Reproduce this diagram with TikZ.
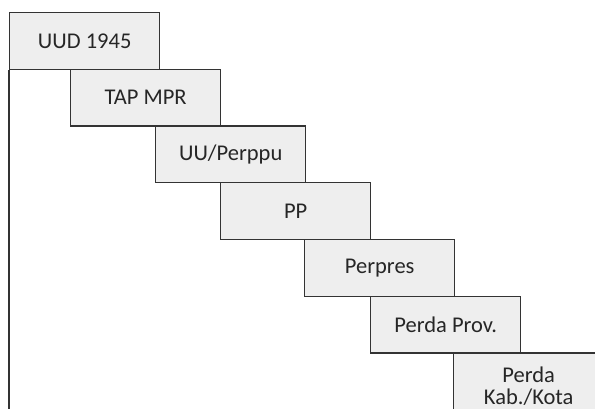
\documentclass[tikz,border=0pt]{standalone}
\usepackage{fontspec}
\setmainfont{Carlito}
\usepackage{tikz}

\definecolor{boxfill}{HTML}{EEEEEE}
\definecolor{boxline}{HTML}{333333}

\tikzset{
	stepbox/.style={draw=boxline,line width=1.4pt,fill=boxfill,anchor=north west,
		minimum width=150pt,minimum height=56.7pt,inner sep=0pt,align=center,
		font=\fontsize{22.5}{22}\selectfont,text=black!85}
}

\begin{document}
\begin{tikzpicture}[x=1pt,y=1pt]
	\useasboundingbox (0,0) rectangle (595,-409);
	\clip (0,0) rectangle (595,-409);

	%hierarchy boxes
	\foreach \i/\x/\txt in {1/9/UUD 1945,2/70/TAP MPR,3/155/UU\slash Perppu,4/220/PP,5/304/Perpres,6/370/Perda Prov.}
	\node[stepbox] (b\i) at (\x,{-12-56.7*(\i-1)}) {\txt};

	\node[stepbox,minimum height=66pt] (b7) at (453,-352.2) {Perda\\Kab./Kota};

	%left line
	\coordinate (bot) at (9,-409);
	\draw[boxline,line width=1.4pt] (b1.south west)--(bot);
\end{tikzpicture}
\end{document}
